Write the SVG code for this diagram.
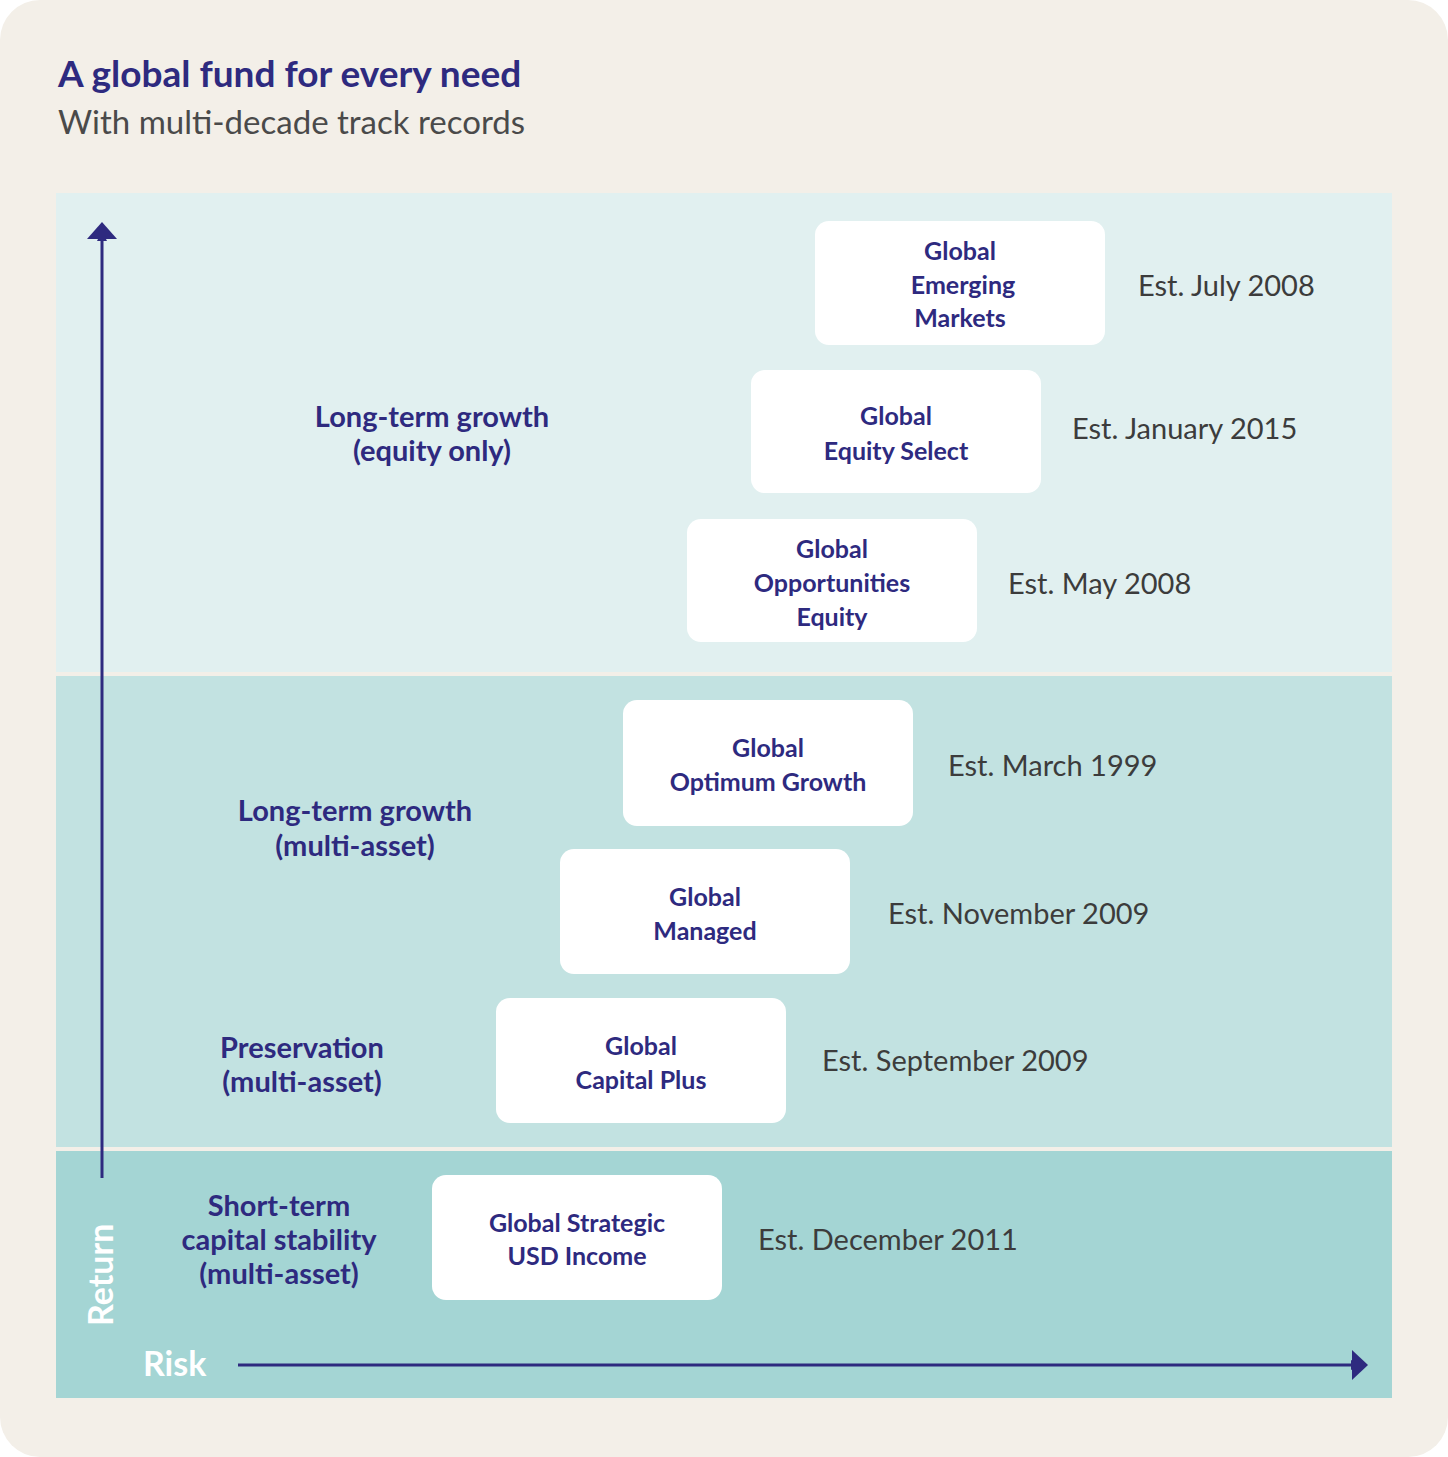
<svg xmlns="http://www.w3.org/2000/svg" width="1448" height="1457" viewBox="0 0 1448 1457">
<style>
.box{fill:#fff}
.bt{font-family:"Lato","Open Sans",sans-serif;font-weight:bold;font-size:25px;fill:#2e2a7f;text-anchor:middle}
.cat{font-family:"Lato","Open Sans",sans-serif;font-weight:bold;font-size:29px;fill:#2e2a7f;text-anchor:middle}
.est{font-family:"Lato","Open Sans",sans-serif;font-size:29px;fill:#3c3c3c}
.ax{font-family:"Lato","Open Sans",sans-serif;font-weight:bold;font-size:34px;fill:#fff}
</style>
<defs><marker id="ah" markerWidth="10" markerHeight="10" refX="5" refY="5" orient="auto" markerUnits="userSpaceOnUse" viewBox="0 0 10 10"><path d="M0,0 L10,5 L0,10z" fill="#2e2a7f"/></marker></defs>
<rect x="0" y="0" width="1448" height="1457" rx="40" fill="#f3efe8"/>
<text x="58" y="87" font-family="Lato,'Open Sans',sans-serif" font-weight="bold" font-size="37" fill="#2e2a7f">A global fund for every need</text>
<text x="58" y="134" font-family="Lato,'Open Sans',sans-serif" font-size="33" fill="#4a4a4a">With multi-decade track records</text>
<rect x="56" y="193" width="1336" height="479" fill="#e1f0f0"/>
<rect x="56" y="676" width="1336" height="471" fill="#c2e2e1"/>
<rect x="56" y="1151" width="1336" height="247" fill="#a4d5d4"/>
<text class="cat" x="432" y="427">Long-term growth</text><text class="cat" x="432" y="461">(equity only)</text>
<text class="cat" x="355" y="821">Long-term growth</text><text class="cat" x="355" y="856">(multi-asset)</text>
<text class="cat" x="302" y="1058">Preservation</text><text class="cat" x="302" y="1092">(multi-asset)</text>
<text class="cat" x="279" y="1216">Short-term</text><text class="cat" x="279" y="1250">capital stability</text><text class="cat" x="279" y="1284">(multi-asset)</text>
<g id="n1"><rect class="box" x="815" y="221" width="290" height="124" rx="14"/><text class="bt" x="960" y="260">Global</text><text class="bt" x="963" y="294">Emerging</text><text class="bt" x="960" y="327">Markets</text><text class="est" x="1138" y="296">Est. July 2008</text></g>
<g id="n2"><rect class="box" x="751" y="370" width="290" height="123" rx="14"/><text class="bt" x="896" y="425">Global</text><text class="bt" x="896" y="460">Equity Select</text><text class="est" x="1072" y="439">Est. January 2015</text></g>
<g id="n3"><rect class="box" x="687" y="519" width="290" height="123" rx="14"/><text class="bt" x="832" y="558">Global</text><text class="bt" x="832" y="592">Opportunities</text><text class="bt" x="832" y="626">Equity</text><text class="est" x="1008" y="594">Est. May 2008</text></g>
<g id="n4"><rect class="box" x="623" y="700" width="290" height="126" rx="14"/><text class="bt" x="768" y="757">Global</text><text class="bt" x="768" y="791">Optimum Growth</text><text class="est" x="948" y="776">Est. March 1999</text></g>
<g id="n5"><rect class="box" x="560" y="849" width="290" height="125" rx="14"/><text class="bt" x="705" y="906">Global</text><text class="bt" x="705" y="940">Managed</text><text class="est" x="888" y="924">Est. November 2009</text></g>
<g id="n6"><rect class="box" x="496" y="998" width="290" height="125" rx="14"/><text class="bt" x="641" y="1055">Global</text><text class="bt" x="641" y="1089">Capital Plus</text><text class="est" x="822" y="1071">Est. September 2009</text></g>
<g id="n7"><rect class="box" x="432" y="1175" width="290" height="125" rx="14"/><text class="bt" x="577" y="1232">Global Strategic</text><text class="bt" x="577" y="1265">USD Income</text><text class="est" x="758" y="1250">Est. December 2011</text></g>
<g id="connectors" stroke="#2e2a7f" stroke-width="3">
<line x1="102" y1="1178" x2="102" y2="236" marker-end="url(#ah)"/>
<line x1="238" y1="1365" x2="1356" y2="1365" marker-end="url(#ah)"/>
<path d="M87,239 L102,222 L117,239z" fill="#2e2a7f" stroke="none"/>
<path d="M1352,1350 L1368,1365 L1352,1380z" fill="#2e2a7f" stroke="none"/>
</g>
<text class="ax" transform="translate(113,1326) rotate(-90)">Return</text>
<text class="ax" x="143" y="1376">Risk</text>
</svg>
